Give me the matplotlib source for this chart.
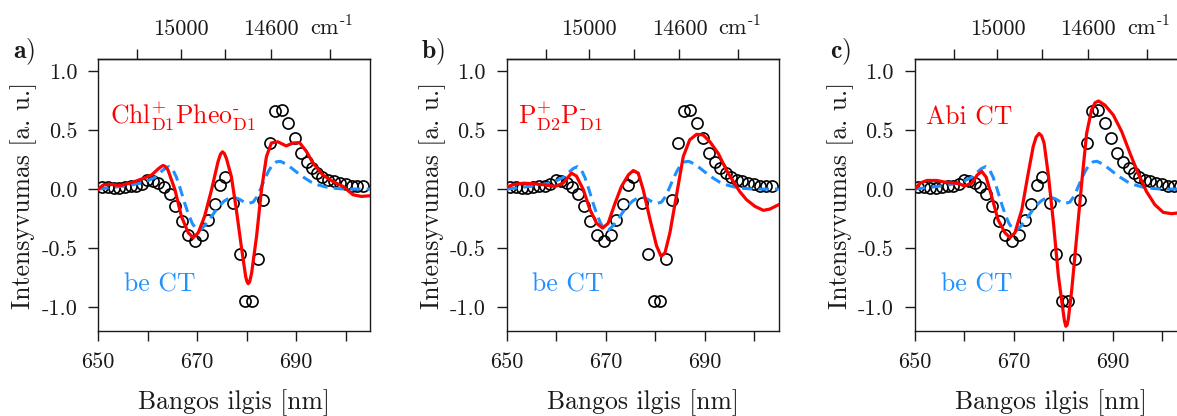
import numpy as np
import matplotlib
matplotlib.use("Agg")
import matplotlib.pyplot as plt
from matplotlib.transforms import blended_transform_factory

plt.rcParams['font.family'] = 'cmr10'
plt.rcParams['mathtext.fontset'] = 'cm'
plt.rcParams['axes.unicode_minus'] = False

# ---------------- data ----------------
exp_nm = [650.7, 651.9, 653.1, 654.2, 655.4, 656.6, 657.7, 658.8, 659.9, 661.0,
          662.1, 663.2, 664.4, 665.6, 666.9, 668.2, 669.6, 671.0, 672.2, 673.5,
          674.6, 675.6, 677.3, 678.6, 679.7, 681.0, 682.3, 683.4, 684.7, 685.8,
          687.1, 688.4, 689.7, 690.9, 692.1, 693.2, 694.3, 695.3, 696.5, 697.6,
          698.8, 700.0, 701.2, 702.4, 703.6]
exp_val = [0.02, 0.015, 0.01, 0.012, 0.02, 0.025, 0.03, 0.045, 0.075, 0.065,
           0.05, 0.02, -0.045, -0.14, -0.27, -0.39, -0.44, -0.39, -0.265, -0.125,
           0.035, 0.10, -0.12, -0.55, -0.95, -0.95, -0.59, -0.09, 0.39, 0.66,
           0.665, 0.555, 0.43, 0.305, 0.225, 0.175, 0.135, 0.105, 0.08, 0.065,
           0.05, 0.04, 0.03, 0.025, 0.03]

be_nm = [650, 652, 654, 656, 658, 660, 661.5, 662.5, 663.5, 664.3, 665.0, 665.8,
         666.6, 667.4, 668.2, 669.0, 669.8, 670.6, 671.5, 672.5, 673.5, 674.5,
         675.5, 676.5, 677.5, 678.5, 679.5, 680.5, 681.3, 682.0, 682.8, 683.6,
         684.4, 685.2, 686.0, 686.8, 687.8, 689.0, 690.2, 691.5, 693.0, 694.5,
         696.0, 698.0, 700.0, 702.5, 705.0]
be_val = [0.0, 0.01, 0.02, 0.03, 0.045, 0.07, 0.10, 0.14, 0.175, 0.19, 0.17, 0.10,
          0.0, -0.11, -0.21, -0.29, -0.34, -0.345, -0.31, -0.255, -0.195, -0.14,
          -0.10, -0.075, -0.07, -0.085, -0.11, -0.12, -0.11, -0.07, 0.0, 0.08,
          0.15, 0.205, 0.23, 0.235, 0.215, 0.18, 0.14, 0.10, 0.06, 0.035,
          0.018, 0.006, 0.0, 0.0, 0.0]

chl_nm = [650, 651, 652.4, 654.4, 656.4, 659.1, 660.8, 662.1, 662.7, 663.1, 663.6,
          664.1, 665.5, 666.8, 668.2, 669.2, 670.2, 671.5, 672.9, 674.2, 674.7,
          675.1, 675.5, 675.9, 676.9, 677.9, 678.9, 679.8, 680.05, 680.3, 680.6,
          681.0, 682.0, 683.0, 684.0, 685.0, 686.3, 688.0, 689.4, 690.7, 692.1,
          693.4, 695.4, 697.4, 699.5, 701.5, 703.2, 705]
chl_val = [0.0, 0.035, 0.04, 0.03, 0.05, 0.09, 0.12, 0.17, 0.19, 0.2, 0.19,
           0.16, -0.005, -0.23, -0.37, -0.41, -0.37, -0.23, -0.005, 0.23, 0.295,
           0.315, 0.30, 0.26, 0.107, -0.17, -0.48, -0.74, -0.78, -0.80, -0.785,
           -0.71, -0.40, -0.005, 0.275, 0.39, 0.40, 0.365, 0.39, 0.393, 0.317,
           0.22, 0.12, 0.065, 0.022, -0.048, -0.062, -0.056]

pp_nm = [650, 651.3, 653.4, 655.4, 657.4, 659.8, 661.4, 663.1, 664.1, 665.5,
         666.8, 668.2, 669.4, 670.5, 671.9, 673.2, 674.6, 675.6, 676.6, 677.6,
         679.0, 680.3, 681.2, 682.0, 683.0, 684.3, 685.7, 687.0, 688.4, 689.7,
         691.1, 692.8, 694.4, 695.8, 697.1, 698.5, 700.2, 701.9, 703.2, 705]
pp_val = [0.017, 0.037, 0.05, 0.045, 0.037, 0.022, 0.05, 0.135, 0.11, -0.005,
          -0.17, -0.29, -0.33, -0.29, -0.12, 0.022, 0.12, 0.157, 0.135, -0.005,
          -0.26, -0.48, -0.567, -0.54, -0.37, -0.06, 0.275, 0.416, 0.463, 0.458,
          0.40, 0.30, 0.163, 0.065, -0.02, -0.09, -0.146, -0.18, -0.169, -0.132]

abi_nm = [650, 651, 652.4, 654.4, 656.4, 658.4, 660.1, 661.5, 662.6, 663.5,
          664.4, 665.5, 666.8, 668.2, 669.2, 670.2, 671.6, 672.9, 673.9, 674.5,
          675.1, 675.6, 676.1, 677.0, 678.0, 679.0, 679.9, 680.2, 680.5, 680.75,
          681.0, 681.7, 682.7, 683.7, 684.7, 685.7, 686.4, 687.1, 688.4, 690.1,
          691.8, 693.5, 695.1, 696.8, 698.5, 700.2, 701.9, 703.5, 705]
abi_val = [0.0, 0.05, 0.073, 0.073, 0.056, 0.05, 0.028, 0.05, 0.12, 0.149,
           0.10, -0.062, -0.26, -0.37, -0.41, -0.37, -0.174, 0.135, 0.36, 0.44,
           0.47, 0.45, 0.39, 0.107, -0.287, -0.736, -1.017, -1.11, -1.16, -1.15,
           -1.10, -0.85, -0.40, 0.05, 0.47, 0.67, 0.73, 0.745, 0.71, 0.626,
           0.486, 0.30, 0.135, -0.02, -0.132, -0.197, -0.208, -0.2, -0.19]

panel_letters = ['a', 'b', 'c']
red_labels = [r'$\mathrm{Chl}^{+}_{\mathrm{D1}}\mathrm{Pheo}^{\text{-}}_{\mathrm{D1}}$',
              r'$\mathrm{P}^{+}_{\mathrm{D2}}\mathrm{P}^{\text{-}}_{\mathrm{D1}}$',
              'Abi CT']
blue_label = 'be CT'
red_series = [(chl_nm, chl_val), (pp_nm, pp_val), (abi_nm, abi_val)]

x_ticks = [650, 660, 670, 680, 690, 700]
x_labels = ['650', '', '670', '', '690', '']
y_ticks = [-1.0, -0.5, 0.0, 0.5, 1.0]
y_labels = ['-1.0', '-0.5', '0.0', '0.5', '1.0']
wn_ticks = [15200, 15000, 14800, 14600, 14350]
wn_labels = ['', '15000', '', '14600', '']

RED = '#FF0000'
BLUE = '#1E90FF'
INK = '#1a1a1a'

W, H = 1177, 416
fig = plt.figure(figsize=(W / 100, H / 100), dpi=100)

ax_w, ax_h = 272, 272
ax_bottom_px = H - 331
lefts = [98.3, 506.7, 915.0]


def nm2wn(x):
    x = np.asarray(x, dtype=float)
    with np.errstate(divide='ignore', invalid='ignore'):
        return 1e7 / x


for i, left in enumerate(lefts):
    ax = fig.add_axes([left / W, ax_bottom_px / H, ax_w / W, ax_h / H])
    ax.plot(exp_nm, exp_val, 'o', ms=8, mfc='none', mec='black', mew=1.2, zorder=2)
    ax.plot(be_nm, be_val, color=BLUE, lw=2.2, ls=(0, (3.4, 2.0)), zorder=3)
    rx, ry = red_series[i]
    ax.plot(rx, ry, color=RED, lw=2.3, zorder=4, solid_joinstyle='round')

    ax.set_xlim(650, 705)
    ax.set_ylim(-1.2, 1.1)
    ax.set_xticks(x_ticks)
    ax.set_xticklabels(x_labels)
    ax.set_yticks(y_ticks)
    ax.set_yticklabels(y_labels)
    ax.tick_params(axis='both', direction='out', length=7.2, width=1.0,
                   labelsize=16, colors=INK, labelcolor=INK)
    ax.tick_params(axis='x', pad=8.5)
    ax.tick_params(axis='y', pad=8.0)
    for sp in ax.spines.values():
        sp.set_linewidth(1.0)
        sp.set_color(INK)

    ax.set_xlabel('Bangos ilgis [nm]', fontsize=18.5, color=INK)
    ax.xaxis.set_label_coords(0.5, -0.215)
    ax.set_ylabel('Intensyvumas [a. u.]', fontsize=18.5, color=INK)
    ax.yaxis.set_label_coords(-0.225, 0.5)

    sec = ax.secondary_xaxis('top', functions=(nm2wn, nm2wn))
    sec.set_xticks(wn_ticks)
    sec.set_xticklabels(wn_labels)
    sec.tick_params(axis='x', direction='out', length=7.2, width=1.0,
                    labelsize=16, pad=7.0, colors=INK, labelcolor=INK)
    sec.spines['top'].set_linewidth(1.0)
    sec.spines['top'].set_color(INK)

    trans = blended_transform_factory(ax.transData, ax.transAxes)
    ax.text(692.8, 1.088, r'cm$^{\text{-1}}$', transform=trans, fontsize=16,
            va='baseline', ha='left', color=INK)

    ax.text(652.3, 0.55, red_labels[i], color=RED, fontsize=18.5, va='baseline', ha='left')
    ax.text(655.2, -0.864, blue_label, color=BLUE, fontsize=18.5, va='baseline', ha='left')

    fig.text((left - 85.3) / W, (H - 58) / H, r'$\mathbf{' + panel_letters[i] + '}$)',
             fontsize=18.5, va='baseline', ha='left', color=INK)

fig.savefig('out.png', dpi=100)
